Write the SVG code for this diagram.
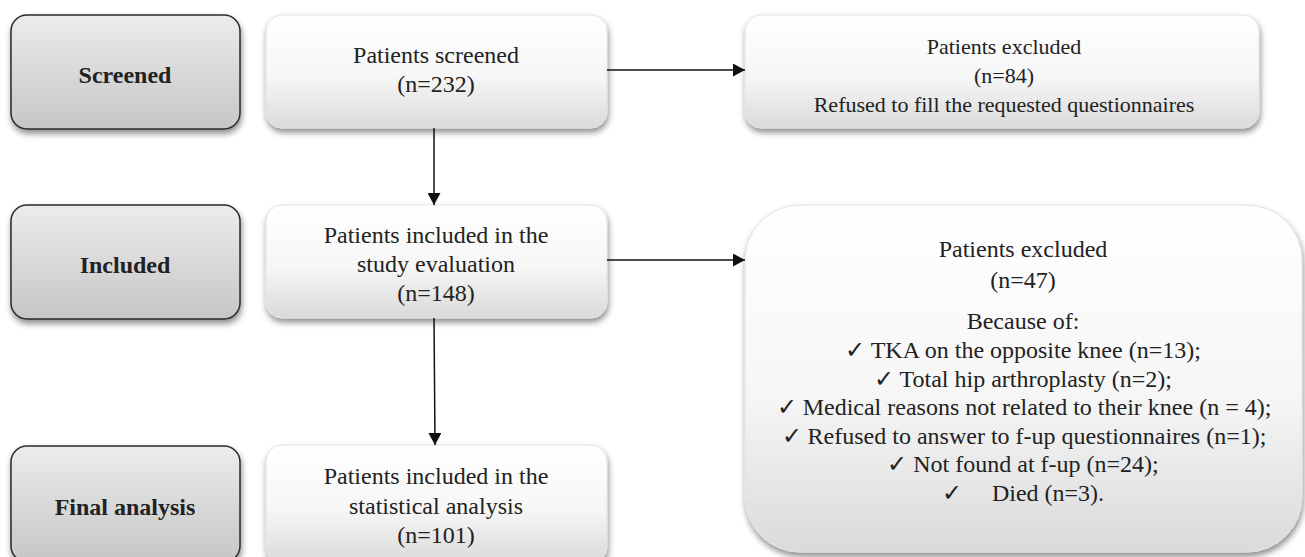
<svg xmlns="http://www.w3.org/2000/svg" width="1305" height="557" viewBox="0 0 1305 557">
<defs>
<linearGradient id="gGrey" x1="0" y1="0" x2="0" y2="1">
<stop offset="0" stop-color="#ececec"/>
<stop offset="1" stop-color="#c6c6c6"/>
</linearGradient>
<linearGradient id="gWhite" x1="0" y1="0" x2="0" y2="1">
<stop offset="0" stop-color="#ffffff"/>
<stop offset="0.55" stop-color="#f6f6f6"/>
<stop offset="1" stop-color="#dadada"/>
</linearGradient>
<filter id="sh" x="-10%" y="-10%" width="120%" height="130%">
<feGaussianBlur in="SourceAlpha" stdDeviation="3"/>
<feOffset dx="1" dy="4" result="b"/>
<feComponentTransfer><feFuncA type="linear" slope="0.45"/></feComponentTransfer>
<feMerge><feMergeNode/><feMergeNode in="SourceGraphic"/></feMerge>
</filter>
<marker id="arr" viewBox="0 0 12 13" refX="12" refY="6.5" markerWidth="12" markerHeight="13" markerUnits="userSpaceOnUse" orient="auto">
<path d="M0,0 L12,6.5 L0,13 z" fill="#111"/>
</marker>
</defs>
<style>
.grey{fill:url(#gGrey);stroke:#2a2a2a;stroke-width:1.5;filter:url(#sh)}
.white{fill:url(#gWhite);stroke:#e2e2e2;stroke-width:1;filter:url(#sh)}
text{font-family:'Liberation Serif','Times New Roman','DejaVu Serif',serif;font-size:24px;fill:#222;text-anchor:middle}
.lbl{font-weight:bold}
.sm{font-size:22px}
.c{stroke:#111;stroke-width:1.5;fill:none;marker-end:url(#arr)}
</style>
<rect width="1305" height="557" fill="#fff"/>

<g id="stage-screened" font-family="Liberation Serif, serif">
<rect class="grey" x="11" y="15" width="229" height="114" rx="16"/>
<text class="lbl" x="125" y="83">Screened</text>
</g>
<g id="stage-included" font-family="Liberation Serif, serif">
<rect class="grey" x="11" y="205" width="229" height="114" rx="16"/>
<text class="lbl" x="125" y="273">Included</text>
</g>
<g id="stage-final" font-family="Liberation Serif, serif">
<rect class="grey" x="11" y="446" width="229" height="116" rx="16"/>
<text class="lbl" x="125" y="515">Final analysis</text>
</g>

<g id="screened" font-family="Liberation Serif, serif">
<rect class="white" x="266" y="15" width="341" height="113" rx="16"/>
<text x="436" y="63">Patients screened</text>
<text x="436" y="92">(n=232)</text>
</g>
<g id="included" font-family="Liberation Serif, serif">
<rect class="white" x="266" y="205" width="341" height="113" rx="16"/>
<text x="436" y="243">Patients included in the</text>
<text x="436" y="272">study evaluation</text>
<text x="436" y="301">(n=148)</text>
</g>
<g id="final" font-family="Liberation Serif, serif">
<rect class="white" x="266" y="445" width="341" height="118" rx="16"/>
<text x="436" y="484">Patients included in the</text>
<text x="436" y="514">statistical analysis</text>
<text x="436" y="543">(n=101)</text>
</g>

<g id="excluded1" font-family="Liberation Serif, serif">
<rect class="white" x="745" y="15" width="514" height="113" rx="16"/>
<text class="sm" x="1004" y="54">Patients excluded</text>
<text class="sm" x="1004" y="83">(n=84)</text>
<text class="sm" x="1004" y="112">Refused to fill the requested questionnaires</text>
</g>
<g id="excluded2" font-family="Liberation Serif, serif">
<rect class="white" x="745" y="205" width="557" height="347" rx="55"/>
<text x="1023" y="257">Patients excluded</text>
<text x="1023" y="288">(n=47)</text>
<text x="1023" y="329">Because of:</text>
<text x="1023" y="358">✓  TKA on the opposite knee (n=13);</text>
<text x="1023" y="387">✓  Total hip arthroplasty (n=2);</text>
<text x="1024" y="415">✓  Medical reasons not related to their knee (n = 4);</text>
<text x="1024" y="444">✓  Refused to answer to f-up questionnaires (n=1);</text>
<text x="1023" y="472">✓  Not found at f-up (n=24);</text>
<text x="1023" y="501" xml:space="preserve">✓     Died (n=3).</text>
</g>

<g id="connectors">
<line class="c" x1="434" y1="128" x2="434" y2="205"/>
<line class="c" x1="434" y1="318" x2="435" y2="445"/>
<line class="c" x1="607" y1="70" x2="745" y2="70"/>
<line class="c" x1="607" y1="260" x2="745" y2="260"/>
</g>
</svg>
